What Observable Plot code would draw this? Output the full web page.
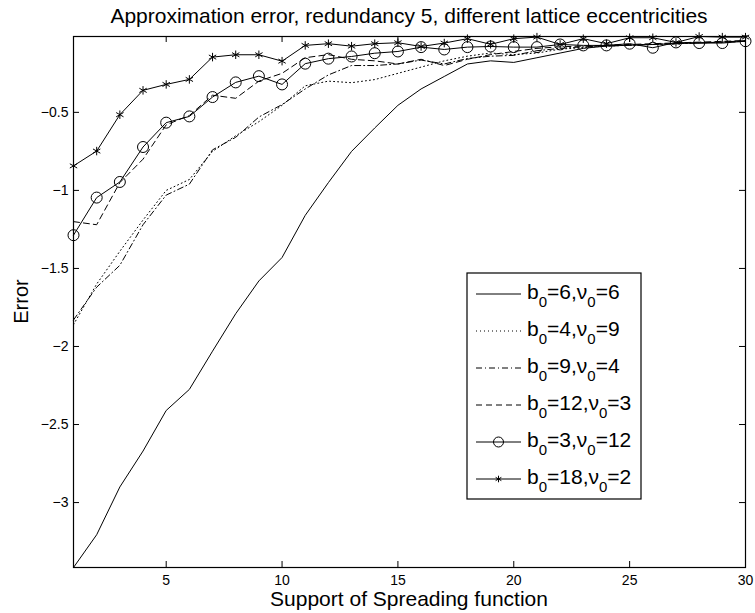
<!DOCTYPE html>
<html>
<head>
<meta charset="utf-8">
<script src="https://cdn.jsdelivr.net/npm/d3@7"></script>
<script src="https://cdn.jsdelivr.net/npm/@observablehq/plot@0.6"></script>
<style>
  body { margin: 0; background: #fff; }
  svg { display: block; }
</style>
</head>
<body>
<div id="chart"></div>
<script>
// ---- data ----
const support = [1,2,3,4,5,6,7,8,9,10,11,12,13,14,15,16,17,18,19,20,21,22,23,24,25,26,27,28,29,30];

const errB6N6  = [-3.416,-3.206,-2.90,-2.67,-2.41,-2.275,-2.03,-1.79,-1.58,-1.43,-1.16,-0.95,-0.75,-0.60,-0.455,-0.35,-0.27,-0.19,-0.17,-0.18,-0.15,-0.12,-0.09,-0.075,-0.07,-0.065,-0.06,-0.055,-0.05,-0.04];
const errB4N9  = [-1.86,-1.60,-1.39,-1.19,-1.00,-0.93,-0.75,-0.65,-0.56,-0.455,-0.33,-0.30,-0.31,-0.29,-0.25,-0.21,-0.17,-0.14,-0.12,-0.13,-0.12,-0.095,-0.085,-0.075,-0.07,-0.065,-0.06,-0.055,-0.05,-0.045];
const errB9N4  = [-1.83,-1.62,-1.48,-1.22,-1.03,-0.96,-0.74,-0.66,-0.53,-0.45,-0.35,-0.26,-0.20,-0.20,-0.19,-0.165,-0.19,-0.155,-0.14,-0.135,-0.105,-0.09,-0.08,-0.075,-0.07,-0.065,-0.06,-0.055,-0.05,-0.045];
const errB12N3 = [-1.20,-1.22,-0.95,-0.80,-0.58,-0.52,-0.39,-0.41,-0.30,-0.25,-0.15,-0.13,-0.16,-0.17,-0.19,-0.16,-0.20,-0.16,-0.13,-0.11,-0.09,-0.08,-0.075,-0.07,-0.065,-0.06,-0.055,-0.05,-0.045,-0.04];
const errB3N12 = [-1.287,-1.046,-0.946,-0.722,-0.566,-0.526,-0.402,-0.308,-0.268,-0.321,-0.188,-0.156,-0.142,-0.121,-0.110,-0.082,-0.097,-0.082,-0.078,-0.082,-0.082,-0.065,-0.071,-0.071,-0.06,-0.086,-0.052,-0.056,-0.056,-0.044];
const errB18N2 = [-0.843,-0.748,-0.515,-0.359,-0.321,-0.289,-0.146,-0.131,-0.131,-0.172,-0.071,-0.060,-0.076,-0.060,-0.054,-0.078,-0.056,-0.028,-0.064,-0.028,-0.018,-0.065,-0.028,-0.06,-0.022,-0.022,-0.052,-0.014,-0.018,-0.018];

const b0Values  = [6, 4, 9, 12, 3, 18];
const nu0Values = [6, 9, 4, 3, 12, 2];
const xTicks = [5, 10, 15, 20, 25, 30];
const yTicks = [-3, -2.5, -2, -1.5, -1, -0.5];

const titleText = "Approximation error, redundancy 5, different lattice eccentricities";
const xLabelText = "Support of Spreading function";
const yLabelText = "Error";

// ---- styles ----
const seriesValues = [errB6N6, errB4N9, errB9N4, errB12N3, errB3N12, errB18N2];
const dashes  = [null, "1,3", "6,3,1,3", "6,4", null, null];
const markers = [null, null, null, null, "circle", "asterisk"];

const W = 755, H = 613, mL = 73, mR = 10, mT = 36, mB = 46;
const innerW = W - mL - mR, innerH = H - mT - mB;
const FONT = "'Liberation Sans', Arial, Helvetica, sans-serif";

const series = seriesValues.map((vals, k) => vals.map((v, i) => ({x: support[i], y: v, k})));

const marks = [];
series.forEach((rows, k) => {
  const lo = {x: "x", y: "y", stroke: "black", strokeWidth: 1};
  if (dashes[k]) lo.strokeDasharray = dashes[k];
  marks.push(Plot.line(rows, lo));
  if (markers[k] === "circle")
    marks.push(Plot.dot(rows, {x: "x", y: "y", r: 5.5, stroke: "black", fill: "none", strokeWidth: 1}));
  if (markers[k] === "asterisk")
    marks.push(Plot.dot(rows, {x: "x", y: "y", r: 4, symbol: "asterisk", stroke: "black", strokeWidth: 1}));
});

const fmt = d => String(d).replace("-", "\u2212");

const svg = Plot.plot({
  width: W, height: H,
  marginLeft: mL, marginRight: mR, marginTop: mT, marginBottom: mB,
  style: {fontFamily: FONT, fontSize: "14px", color: "black", background: "white"},
  x: {domain: [1, 30]},
  y: {domain: [-3.416, -0.014]},
  marks: [
    ...marks,
    Plot.tickX(xTicks, {x: d => d, stroke: "black", insetTop: innerH - 6}),
    Plot.tickX(xTicks, {x: d => d, stroke: "black", insetBottom: innerH - 6}),
    Plot.tickY(yTicks, {y: d => d, stroke: "black", insetLeft: innerW - 6}),
    Plot.tickY(yTicks, {y: d => d, stroke: "black", insetRight: innerW - 6}),
    Plot.frame({stroke: "black", strokeWidth: 1.2}),
    Plot.axisX({ticks: xTicks, anchor: "bottom", tickSize: 0, tickPadding: 8, label: null, tickFormat: fmt}),
    Plot.axisY({ticks: yTicks, anchor: "left", tickSize: 0, tickPadding: 5, label: null, tickFormat: fmt})
  ]
});

const s = d3.select(svg);
const cx = mL + innerW / 2;
s.append("text").attr("x", cx).attr("y", 23).attr("text-anchor", "middle")
  .attr("font-family", FONT).attr("font-size", 21).attr("fill", "black").text(titleText);
s.append("text").attr("x", cx).attr("y", 606).attr("text-anchor", "middle")
  .attr("font-family", FONT).attr("font-size", 21).attr("fill", "black").text(xLabelText);
s.append("text").attr("transform", `translate(28,${mT + innerH / 2}) rotate(-90)`).attr("text-anchor", "middle")
  .attr("font-family", FONT).attr("font-size", 20).attr("fill", "black").text(yLabelText);

// ---- legend ----
const lg = s.append("g");
lg.append("rect").attr("x", 467).attr("y", 273).attr("width", 174).attr("height", 226)
  .attr("fill", "white").attr("stroke", "black").attr("stroke-width", 1.2);
const rowY0 = 294, rowStep = 37;
b0Values.forEach((b, k) => {
  const yy = rowY0 + k * rowStep;
  const ln = lg.append("line").attr("x1", 476).attr("x2", 521).attr("y1", yy).attr("y2", yy)
    .attr("stroke", "black").attr("stroke-width", 1);
  if (dashes[k]) ln.attr("stroke-dasharray", dashes[k]);
  if (markers[k] === "circle")
    lg.append("circle").attr("cx", 498.5).attr("cy", yy).attr("r", 5).attr("fill", "none").attr("stroke", "black");
  if (markers[k] === "asterisk")
    lg.append("path").attr("transform", `translate(498.5,${yy})`)
      .attr("d", d3.symbol(d3.symbolAsterisk, 30)()).attr("fill", "none").attr("stroke", "black");
  const t = lg.append("text").attr("x", 527).attr("y", yy + 5).attr("font-family", FONT)
    .attr("text-anchor", "start").attr("font-size", 21).attr("fill", "black");
  t.append("tspan").text("b");
  t.append("tspan").attr("dy", 8).attr("font-size", 15).text("0");
  t.append("tspan").attr("dy", -8).text("=" + b + ",\u03bd");
  t.append("tspan").attr("dy", 8).attr("font-size", 15).text("0");
  t.append("tspan").attr("dy", -8).text("=" + nu0Values[k]);
});

document.getElementById("chart").appendChild(svg);
</script>
</body>
</html>
